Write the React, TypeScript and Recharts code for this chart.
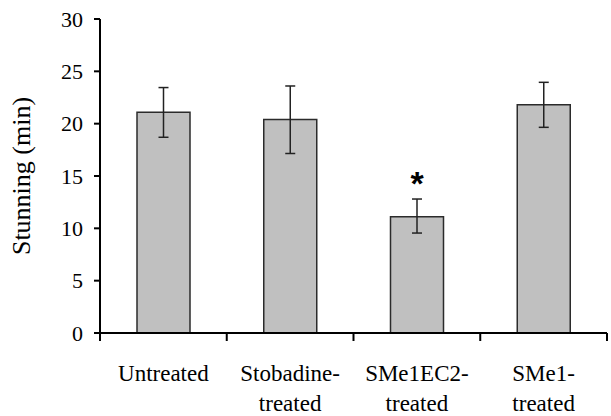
import { BarChart, Bar, XAxis, YAxis, ErrorBar, LabelList } from 'recharts'

// groups on the x axis, labels split over two lines like the original figure
const groups = ['Untreated', 'Stobadine-treated', 'SMe1EC2-treated', 'SMe1-treated']
const groupLines = [['Untreated'], ['Stobadine-', 'treated'], ['SMe1EC2-', 'treated'], ['SMe1-', 'treated']]

// stunning duration (min), mean and SEM
const means = [21.1, 20.4, 11.1, 21.8]
const errLow = [2.4, 3.25, 1.55, 2.15]
const errHigh = [2.35, 3.2, 1.7, 2.15]
const marks = ['', '', '*', '']

const yTicks = [0, 5, 10, 15, 20, 25, 30]

const FONT = '"Liberation Serif", "Times New Roman", serif'

const data = groups.map((name, i) => ({
    name,
    value: means[i],
    err: [errLow[i], errHigh[i]],
    mark: marks[i],
}))

// category label + tick marks on the band edges (offset = half the band width)
function GroupTick(props: any) {
    const { x, y, payload, index, visibleTicksCount } = props
    const half = payload?.offset ?? 0
    const lines = groupLines[index] ?? [payload.value]
    return (
        <g>
            <line x1={x - half} x2={x - half} y1={y} y2={y + 8} stroke="#000" strokeWidth={2} />
            {index === visibleTicksCount - 1 && (
                <line x1={x + half} x2={x + half} y1={y} y2={y + 8} stroke="#000" strokeWidth={2} />
            )}
            <text x={x} y={y} textAnchor="middle" fontFamily={FONT} fontSize={23} fill="#000">
                {lines.map((l: string, i: number) => (
                    <tspan key={i} x={x} dy={i === 0 ? 48 : 30}>{l}</tspan>
                ))}
            </text>
        </g>
    )
}

export default function App() {
    return (
        <div style={{ position: 'absolute', left: 0, top: 0, background: '#fff' }}>
            <style>{`
                .recharts-cartesian-axis-line, .recharts-cartesian-axis-tick-line { stroke: #000; stroke-width: 2px; }
            `}</style>
            <BarChart
                width={611}
                height={416}
                data={data}
                margin={{ top: 19, right: 4, left: 0, bottom: 0 }}
                style={{ fontFamily: FONT }}
            >
                <XAxis
                    dataKey="name"
                    stroke="#000"
                    axisLine={{ stroke: '#000', strokeWidth: 2 }}
                    tickLine={false}
                    tickSize={0}
                    tickMargin={0}
                    height={83}
                    interval={0}
                    tick={<GroupTick />}
                />
                <YAxis
                    domain={[0, 30]}
                    ticks={yTicks}
                    width={100}
                    tickSize={6}
                    tickMargin={11}
                    stroke="#000"
                    axisLine={{ stroke: '#000', strokeWidth: 2 }}
                    tickLine={{ stroke: '#000', strokeWidth: 2 }}
                    tick={{ fontSize: 22, fill: '#000', fontFamily: FONT }}
                    label={{
                        value: 'Stunning (min)',
                        angle: -90,
                        position: 'insideLeft',
                        offset: 21,
                        style: { textAnchor: 'middle', fontSize: 26, fill: '#000', fontFamily: FONT },
                    }}
                />
                <Bar
                    dataKey="value"
                    fill="#c0c0c0"
                    stroke="#2b2b2b"
                    strokeWidth={1.5}
                    barSize={53}
                    isAnimationActive={false}
                >
                    <ErrorBar dataKey="err" width={5} stroke="#222" strokeWidth={1.5} />
                    <LabelList
                        dataKey="mark"
                        position="top"
                        offset={22}
                        style={{ fontSize: 34, fill: '#000', fontFamily: '"Liberation Sans", Arial, sans-serif', fontWeight: 'bold' }}
                    />
                </Bar>
            </BarChart>
        </div>
    )
}
